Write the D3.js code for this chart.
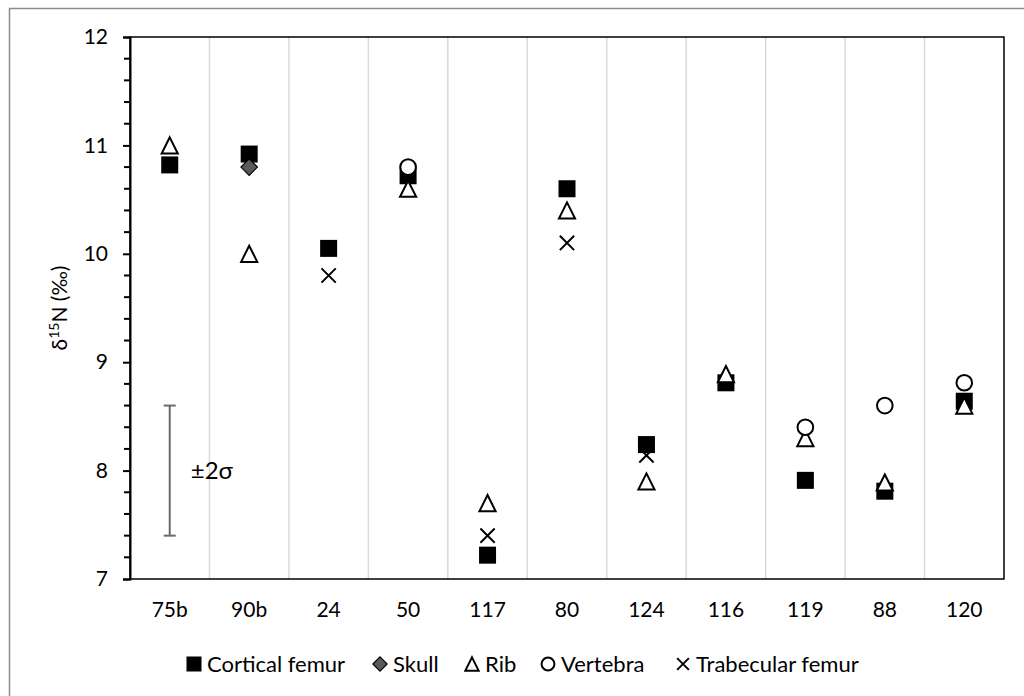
<!DOCTYPE html>
<html><head><meta charset="utf-8">
<script src="https://cdn.jsdelivr.net/npm/d3@7"></script>
<style>
html,body{margin:0;padding:0;background:#fff;}
svg{display:block;font-family:Lato, "Open Sans", sans-serif;}
</style></head>
<body>
<svg id="chart" width="1024" height="696"></svg>
<script>
const categories = ["75b","90b","24","50","117","80","124","116","119","88","120"];
const corticalFemur = [10.82,10.92,10.05,10.72,7.22,10.6,8.24,8.81,7.91,7.81,8.64];
const skull = [null,10.8,null,null,null,null,null,null,null,null,null];
const rib = [11.0,10.0,null,10.6,7.7,10.4,7.9,8.89,8.3,7.89,8.6];
const vertebra = [null,null,null,10.8,null,null,null,null,8.4,8.6,8.81];
const trabecularFemur = [null,null,9.8,null,7.4,10.1,8.14,null,null,null,null];
const yTicks = [7,8,9,10,11,12];
const errorBar = {cat:"75b", low:7.4, high:8.6, label:"±2σ"};

const FONT = "Lato, 'Open Sans', sans-serif";
const svg = d3.select("#chart");
const m = {left:130, right:1004, top:37, bottom:579};

// outer border (top & left visible)
svg.append("rect").attr("x",9.5).attr("y",8.5).attr("width",1100).attr("height",800)
  .attr("fill","none").attr("stroke","#8c8c8c").attr("stroke-width",1.5);

const x = d3.scaleBand().domain(categories).range([m.left,m.right]).paddingInner(0).paddingOuter(0);
const y = d3.scaleLinear().domain([7,12]).range([m.bottom,m.top]);
const cx = c => x(c) + x.bandwidth()/2;

// vertical gridlines between categories
svg.append("g").selectAll("line").data(categories.slice(1)).join("line")
  .attr("x1",d=>x(d)).attr("x2",d=>x(d)).attr("y1",m.top).attr("y2",m.bottom)
  .attr("stroke","#d9d9d9").attr("stroke-width",1.5);

// plot frame
svg.append("rect").attr("x",m.left).attr("y",m.top).attr("width",m.right-m.left).attr("height",m.bottom-m.top)
  .attr("fill","none").attr("stroke","#000").attr("stroke-width",1.5);

// y axis
const yAxis = d3.axisLeft(y).tickValues(yTicks).tickSize(7).tickPadding(15).tickFormat(d3.format("d"));
const ga = svg.append("g").attr("transform",`translate(${m.left},0)`).call(yAxis);
ga.attr("font-size",null).attr("font-family",null);
ga.select(".domain").attr("stroke","#000").attr("stroke-width",2);
ga.selectAll(".tick line").attr("stroke","#000").attr("stroke-width",2);
ga.selectAll(".tick text").style("font-size","21px").attr("fill","#000").style("font-family",FONT);
const minor = d3.range(7,12.001,0.2).filter(v=>Math.abs(v-Math.round(v))>0.01);
svg.append("g").selectAll("line").data(minor).join("line")
  .attr("x1",m.left-6).attr("x2",m.left).attr("y1",d=>y(d)).attr("y2",d=>y(d))
  .attr("stroke","#000").attr("stroke-width",2);

// x labels
svg.append("g").selectAll("text").data(categories).join("text")
  .attr("x",d=>cx(d)).attr("y",617).attr("text-anchor","middle")
  .style("font-size","21px").attr("fill","#000").text(d=>d);

// y label
const yl = svg.append("text").attr("transform",`translate(67,${(m.top+m.bottom)/2}) rotate(-90)`)
  .attr("text-anchor","middle").style("font-size","21px").attr("fill","#000");
yl.append("tspan").text("δ");
yl.append("tspan").style("font-size","14px").attr("dy",-8).text("15");
yl.append("tspan").attr("dy",8).text("N (‰)");

// error bar
const ex = cx(errorBar.cat);
const eg = svg.append("g").attr("stroke","#6b6b6b").attr("stroke-width",2);
eg.append("line").attr("x1",ex).attr("x2",ex).attr("y1",y(errorBar.low)).attr("y2",y(errorBar.high));
eg.append("line").attr("x1",ex-6).attr("x2",ex+6).attr("y1",y(errorBar.low)).attr("y2",y(errorBar.low));
eg.append("line").attr("x1",ex-6).attr("x2",ex+6).attr("y1",y(errorBar.high)).attr("y2",y(errorBar.high));
svg.append("text").attr("x",ex+21).attr("y",y(8)+8).style("font-size","24px").attr("fill","#000").text(errorBar.label);

// marker shapes
function drawMarker(g, type, px, py, s){
  if(type==="square"){
    g.append("rect").attr("x",px-s/2).attr("y",py-s/2).attr("width",s).attr("height",s).attr("fill","#000");
  } else if(type==="diamond"){
    const r=s*0.55;
    g.append("path").attr("d",`M${px},${py-r}L${px+r},${py}L${px},${py+r}L${px-r},${py}Z`)
      .attr("fill","#595959").attr("stroke","#000").attr("stroke-width",1.2);
  } else if(type==="triangle"){
    const h=s*0.95, w=s*0.95;
    g.append("path").attr("d",`M${px},${py-h/2}L${px+w/2},${py+h/2}L${px-w/2},${py+h/2}Z`)
      .attr("fill","#fff").attr("stroke","#000").attr("stroke-width",2).attr("stroke-linejoin","miter");
  } else if(type==="circle"){
    g.append("circle").attr("cx",px).attr("cy",py).attr("r",s*0.46).attr("fill","#fff").attr("stroke","#000").attr("stroke-width",2);
  } else if(type==="cross"){
    const r=s*0.42;
    g.append("path").attr("d",`M${px-r},${py-r}L${px+r},${py+r}M${px+r},${py-r}L${px-r},${py+r}`)
      .attr("stroke","#000").attr("stroke-width",2).attr("fill","none");
  }
}

const series = [
  {name:"Cortical femur", values:corticalFemur, type:"square", size:17},
  {name:"Skull", values:skull, type:"diamond", size:15},
  {name:"Rib", values:rib, type:"triangle", size:17},
  {name:"Vertebra", values:vertebra, type:"circle", size:17},
  {name:"Trabecular femur", values:trabecularFemur, type:"cross", size:17}
];

series.forEach(s=>{
  const g = svg.append("g");
  s.values.forEach((v,i)=>{
    if(v==null) return;
    drawMarker(g, s.type, cx(categories[i]), y(v), s.size);
  });
});

// legend
const legendX = [194, 380, 472, 548, 683];
const lg = svg.append("g");
series.forEach((s,i)=>{
  const px = legendX[i], py = 664;
  drawMarker(lg, s.type, px, py, s.type==="square"?15:(s.type==="diamond"?13:14));
  lg.append("text").attr("x",px+13).attr("y",672).style("font-size","22px").attr("fill","#000").text(s.name);
});
</script>
</body></html>
